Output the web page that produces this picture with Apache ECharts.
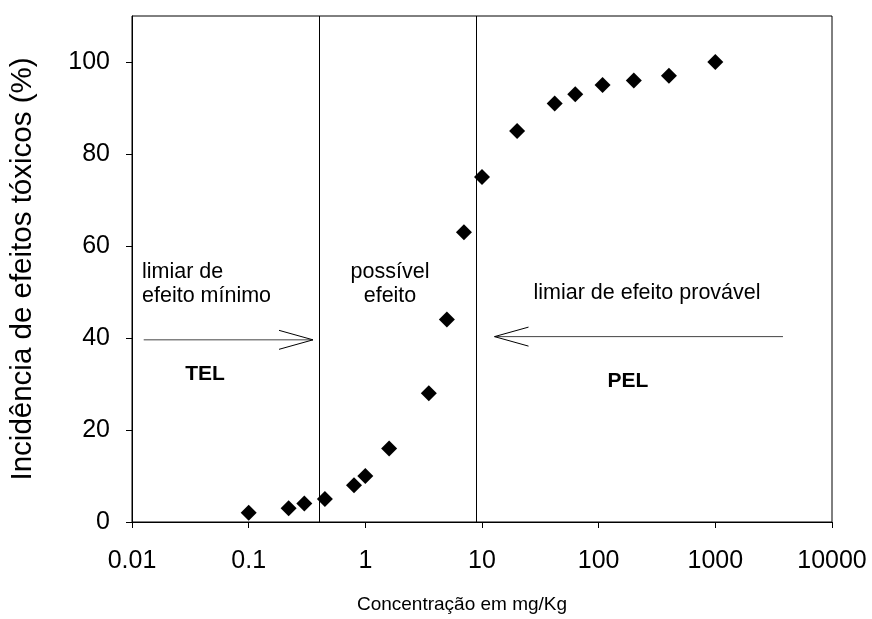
<!DOCTYPE html>
<html>
<head>
<meta charset="utf-8">
<script src="https://cdn.jsdelivr.net/npm/echarts@6/dist/echarts.min.js"></script>
<style>
  html, body { margin: 0; padding: 0; background: #fff; }
  #chart { width: 872px; height: 619px; }
</style>
</head>
<body>
<div id="chart"></div>
<script>
// Data
const concentrations = [0.1, 0.22, 0.3, 0.45, 0.8, 1, 1.6, 3.5, 5, 7, 10, 20, 42, 63, 108, 200, 400, 1000];
const incidence      = [2,   3,    4,   5,    8,   10, 16,  28,  44, 63, 75, 85, 91, 93, 95,  96,  97,  100];
const xTickValues = [0.01, 0.1, 1, 10, 100, 1000, 10000];
const yTickValues = [0, 20, 40, 60, 80, 100];
const thresholdLines = [0.4, 9];          // TEL and PEL vertical lines
const arrowStart = [0.0126, 3800];
const arrowEnd   = [0.356, 12.8];
const arrowLevel = [39.6, 40.3];

const FONT = '"Liberation Sans", Arial, sans-serif';

const chart = echarts.init(document.getElementById('chart'), null, { renderer: 'canvas' });

const arrowData = arrowStart.map((s, i) => [s, arrowEnd[i], arrowLevel[i]]);

const option = {
  backgroundColor: '#fff',
  animation: false,
  textStyle: { fontFamily: FONT, color: '#000' },
  grid: {
    left: 132, right: 40, top: 16, bottom: 96,
    show: true, borderColor: '#000', borderWidth: 1, backgroundColor: 'transparent'
  },
  xAxis: {
    type: 'log',
    logBase: 10,
    min: xTickValues[0],
    max: xTickValues[xTickValues.length - 1],
    name: 'Concentração em mg/Kg',
    nameLocation: 'middle',
    nameGap: 73,
    nameTextStyle: { fontSize: 19, color: '#000', fontFamily: FONT, padding: [0, 40, 0, 0] },
    axisLine: { show: true, lineStyle: { color: '#000', width: 1 } },
    axisTick: { show: true, inside: false, length: 6, lineStyle: { color: '#000' } },
    minorTick: { show: false },
    splitLine: { show: false },
    axisLabel: {
      show: true, fontSize: 25, color: '#000', fontFamily: FONT, margin: 27,
      formatter: v => String(+Number(v).toPrecision(6))
    }
  },
  yAxis: {
    type: 'value',
    min: 0,
    max: 110,
    name: 'Incidência de efeitos tóxicos (%)',
    nameLocation: 'middle',
    nameGap: 94,
    nameTextStyle: { fontSize: 29.5, color: '#000', fontFamily: FONT },
    axisLine: { show: true, lineStyle: { color: '#000', width: 1 } },
    axisTick: { show: true, inside: false, length: 6, lineStyle: { color: '#000' }, customValues: yTickValues },
    splitLine: { show: false },
    axisLabel: { show: true, fontSize: 25, color: '#000', fontFamily: FONT, margin: 22, customValues: yTickValues }
  },
  graphic: [
    { type: 'text', left: 142, top: 260, style: { text: 'limiar de\nefeito mínimo', fontSize: 21.5, lineHeight: 24, fontFamily: FONT, fill: '#000' } },
    { type: 'text', x: 390, y: 260, style: { text: 'possível\nefeito', fontSize: 21.5, lineHeight: 24, fontFamily: FONT, fill: '#000', align: 'center', verticalAlign: 'top' } },
    { type: 'text', x: 647, y: 293, style: { text: 'limiar de efeito provável', fontSize: 21.5, fontFamily: FONT, fill: '#000', align: 'center', verticalAlign: 'middle' } },
    { type: 'text', x: 205, y: 374, style: { text: 'TEL', fontSize: 21, fontWeight: 'bold', fontFamily: FONT, fill: '#000', align: 'center', verticalAlign: 'middle' } },
    { type: 'text', x: 628, y: 381, style: { text: 'PEL', fontSize: 21, fontWeight: 'bold', fontFamily: FONT, fill: '#000', align: 'center', verticalAlign: 'middle' } }
  ],
  series: [
    {
      type: 'scatter',
      data: concentrations.map((c, i) => [c, incidence[i]]),
      symbol: 'diamond',
      symbolSize: 16,
      itemStyle: { color: '#000', opacity: 1 },
      z: 5,
      markLine: {
        silent: true,
        symbol: 'none',
        label: { show: false },
        lineStyle: { color: '#000', width: 1, type: 'solid' },
        data: thresholdLines.map(v => ({ xAxis: v }))
      }
    },
    {
      type: 'custom',
      data: arrowData,
      encode: { x: [0, 1], y: 2 },
      silent: true,
      renderItem: function (params, api) {
        const from = api.coord([api.value(0), api.value(2)]);
        const to = api.coord([api.value(1), api.value(2)]);
        const dir = Math.sign(to[0] - from[0]);
        const hl = 34, hw = 9.5;
        return {
          type: 'group',
          children: [
            { type: 'line', shape: { x1: from[0], y1: from[1], x2: to[0], y2: to[1] }, style: { stroke: '#444', lineWidth: 1 } },
            { type: 'polyline', shape: { points: [[to[0] - dir * hl, to[1] - hw], [to[0], to[1]], [to[0] - dir * hl, to[1] + hw]] }, style: { stroke: '#000', fill: null, lineWidth: 1 } }
          ]
        };
      }
    }
  ]
};

chart.setOption(option);
</script>
</body>
</html>
